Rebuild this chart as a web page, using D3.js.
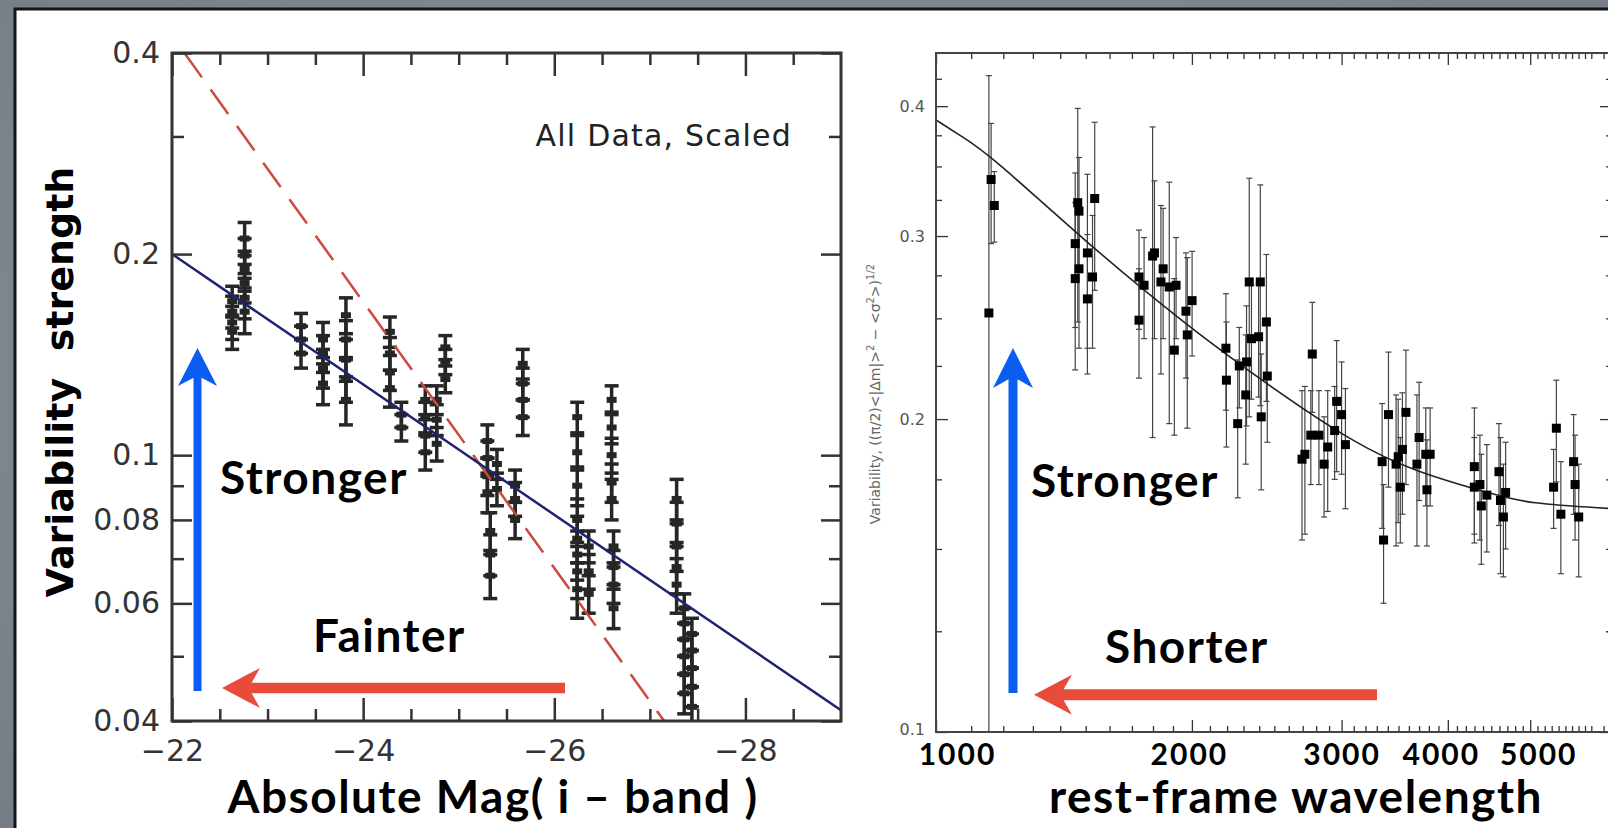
<!DOCTYPE html>
<html>
<head>
<meta charset="utf-8">
<script src="https://cdn.jsdelivr.net/npm/d3@7"></script>
<style>
  html, body { margin: 0; padding: 0; background: #838c94; }
  svg { display: block; }
</style>
</head>
<body>
<svg id="chart" width="1608" height="828"></svg>
<script>
// Left panel: variability vs absolute i-band magnitude
var magTicks = [-22, -24, -26, -28];
var magMinorTicks = [-22.5, -23, -23.5, -24.5, -25, -25.5, -26.5, -27, -27.5, -28.5];
var varTicks = [0.04, 0.06, 0.08, 0.1, 0.2, 0.4];
var varMinorTicks = [0.05, 0.07, 0.09, 0.3];

// each column of binned points shares one magnitude and one error size
var magCols = [-22.63, -22.76, -23.35, -23.58, -23.82, -24.28, -24.40, -24.65, -24.77, -24.86, -25.30,
  -25.33, -25.40, -25.59, -25.67, -26.24, -26.36, -26.60, -26.62, -27.28, -27.36, -27.44];
var varCols = [
  [0.170, 0.164, 0.158, 0.153],
  [0.211, 0.199, 0.190, 0.181, 0.172, 0.164],
  [0.156, 0.149, 0.142],
  [0.149, 0.142, 0.135, 0.128],
  [0.162, 0.149, 0.139, 0.130, 0.121],
  [0.153, 0.142, 0.133, 0.126],
  [0.115, 0.110],
  [0.121, 0.114, 0.107, 0.101],
  [0.121, 0.113, 0.104],
  [0.145, 0.138, 0.130],
  [0.105, 0.099, 0.093, 0.088],
  [0.077, 0.071, 0.066],
  [0.097, 0.089],
  [0.090, 0.086, 0.080],
  [0.137, 0.128, 0.121, 0.114],
  [0.114, 0.101, 0.090, 0.080, 0.075, 0.071, 0.067, 0.063],
  [0.073, 0.067, 0.062],
  [0.121, 0.110, 0.100, 0.091, 0.086],
  [0.073, 0.068, 0.064, 0.059],
  [0.086, 0.079, 0.073, 0.068, 0.064],
  [0.059, 0.056, 0.053, 0.050, 0.047, 0.044],
  [0.054, 0.051, 0.048, 0.045, 0.042]
];
var errCols = [0.009, 0.012, 0.007, 0.009, 0.010, 0.008, 0.005, 0.006, 0.006, 0.006, 0.006,
  0.005, 0.005, 0.005, 0.007, 0.006, 0.004, 0.006, 0.004, 0.006, 0.003, 0.003];

var shallowFitMag = [-22, -29];
var shallowFitVar = [0.2, 0.0415];
var steepFitMag = [-22.13, -27.15];
var steepFitVar = [0.4, 0.04];

// Right panel: variability vs rest-frame wavelength
var waveTicks = [1000, 2000, 3000, 4000, 5000];
var waveTickShift = [21, -3, 0, -7, 8];
var waveVarTicks = [0.1, 0.2, 0.3, 0.4];

var waveObs = [1154, 1161, 1171,
  1468, 1473, 1458, 1458, 1473, 1507, 1507, 1528, 1537,
  1733, 1757, 1733, 1798, 1807, 1839, 1850, 1881, 1907, 1916, 1968, 1975, 2001,
  2193, 2196, 2264, 2274, 2319, 2314, 2336, 2350, 2396, 2407, 2413, 2447, 2453,
  2695, 2716, 2760, 2771, 2821, 2861, 2889, 2944, 2960, 3000, 3031,
  3348, 3361, 3406, 3477, 3497, 3517, 3537, 3571, 3679, 3701, 3768, 3813, 3780,
  4298, 4298, 4363, 4380, 4446, 4594, 4613, 4650, 4678,
  5367, 5327, 5433, 5624, 5646, 5702];
var waveVar = [0.253, 0.340, 0.321,
  0.323, 0.317, 0.295, 0.273, 0.279, 0.289, 0.261, 0.274, 0.326,
  0.274, 0.269, 0.249, 0.287, 0.289, 0.271, 0.279, 0.268, 0.233, 0.269, 0.254, 0.241, 0.260,
  0.234, 0.218, 0.198, 0.225, 0.227, 0.211, 0.271, 0.239, 0.240, 0.271, 0.201, 0.248, 0.220,
  0.183, 0.185, 0.193, 0.231, 0.193, 0.181, 0.188, 0.195, 0.208, 0.202, 0.189,
  0.182, 0.153, 0.202, 0.181, 0.184, 0.172, 0.187, 0.203, 0.181, 0.192, 0.185, 0.185, 0.171,
  0.180, 0.172, 0.173, 0.165, 0.169, 0.178, 0.167, 0.161, 0.170,
  0.196, 0.172, 0.162, 0.182, 0.173, 0.161];
var waveErr = [0.175, 0.045, 0.025,
  0.075, 0.040, 0.050, 0.050, 0.045, 0.055, 0.040, 0.040, 0.060,
  0.030, 0.030, 0.030, 0.095, 0.050, 0.050, 0.040, 0.070, 0.040, 0.030, 0.035, 0.045, 0.030,
  0.030, 0.030, 0.030, 0.020, 0.030, 0.030, 0.070, 0.030, 0.030, 0.065, 0.030, 0.040, 0.030,
  0.030, 0.030, 0.020, 0.028, 0.020, 0.020, 0.025, 0.020, 0.030, 0.025, 0.025,
  0.025, 0.020, 0.030, 0.030, 0.025, 0.020, 0.025, 0.030, 0.030, 0.025, 0.020, 0.020, 0.020,
  0.025, 0.020, 0.020, 0.020, 0.020, 0.020, 0.025, 0.020, 0.020,
  0.022, 0.015, 0.020, 0.020, 0.020, 0.020];

var waveFitObs = [1000, 1067, 1154, 1493, 1972, 2471, 3090, 3652, 4566, 4943, 6240];
var waveFitVar = [0.388, 0.375, 0.360, 0.297, 0.246, 0.215, 0.190, 0.178, 0.169, 0.166, 0.164];

(function () {
  'use strict';

  var COLOR_FRAME = '#333',
    COLOR_POINT = '#262626',
    COLOR_NAVY = '#1d2470',
    COLOR_DASH = '#cc4a3e',
    COLOR_BLUE = '#0b5cf0',
    COLOR_RED = '#e84b3a',
    W = 1608,
    H = 828,
    svg, defs, grad, gl, gr, xMag, yVar, xWave, yWave;

  svg = d3.select('#chart');
  defs = svg.append('defs');

  // slide background and white panel
  grad = defs.append('radialGradient').attr('id', 'bg')
    .attr('cx', '50%').attr('cy', '45%').attr('r', '80%');
  grad.append('stop').attr('offset', '0%').attr('stop-color', '#8d969e');
  grad.append('stop').attr('offset', '100%').attr('stop-color', '#737c85');
  svg.append('rect').attr('width', W).attr('height', H).attr('fill', 'url(#bg)');
  svg.append('rect').attr('x', 15).attr('y', 9).attr('width', W).attr('height', H)
    .attr('fill', '#fff').attr('stroke', '#151515').attr('stroke-width', 3);

  function arrow(x1, y1, x2, y2, shaftW, headW, headL, color) {
    var dx = x2 - x1, dy = y2 - y1, len = Math.sqrt(dx * dx + dy * dy),
      ux = dx / len, uy = dy / len, notch = headL * 0.22;
    function pt(a, b) { return [x1 + ux * a - uy * b, y1 + uy * a + ux * b]; }
    svg.append('path')
      .attr('d', d3.line()([
        pt(0, -shaftW / 2), pt(len - headL + notch, -shaftW / 2), pt(len - headL, -headW / 2),
        pt(len, 0),
        pt(len - headL, headW / 2), pt(len - headL + notch, shaftW / 2), pt(0, shaftW / 2)
      ]) + 'Z')
      .attr('fill', color);
  }

  function styleTicks(g, width) {
    g.select('.domain').remove();
    g.selectAll('.tick line').attr('stroke', COLOR_FRAME).attr('stroke-width', width);
  }

  // unlabelled tick rows: drop the empty text nodes too
  function bareTicks(g, width) {
    styleTicks(g, width);
    g.selectAll('.tick text').remove();
  }

  // ---------- left plot
  var L = {x0: 172, x1: 841, y0: 53, y1: 721};
  xMag = d3.scaleLinear().domain([-22, -29]).range([L.x0, L.x1]);
  yVar = d3.scaleLog().domain([0.04, 0.4]).range([L.y1, L.y0]);

  defs.append('clipPath').attr('id', 'clipL').append('rect')
    .attr('x', L.x0).attr('y', L.y0).attr('width', L.x1 - L.x0).attr('height', L.y1 - L.y0);

  gl = svg.append('g');

  var leftPoints = [];
  magCols.forEach(function (m, i) {
    varCols[i].forEach(function (v) {
      leftPoints.push({m: m, v: v, e: errCols[i]});
    });
  });

  var pts = gl.append('g').attr('clip-path', 'url(#clipL)');
  pts.selectAll('.bar').data(leftPoints).enter().append('line')
    .attr('x1', function (d) { return xMag(d.m); })
    .attr('x2', function (d) { return xMag(d.m); })
    .attr('y1', function (d) { return yVar(d.v + d.e); })
    .attr('y2', function (d) { return yVar(d.v - d.e); })
    .attr('stroke', COLOR_POINT).attr('stroke-width', 3.5);
  [1, -1].forEach(function (s) {
    pts.selectAll('.cap').data(leftPoints).enter().append('line')
      .attr('x1', function (d) { return xMag(d.m) - 7; })
      .attr('x2', function (d) { return xMag(d.m) + 7; })
      .attr('y1', function (d) { return yVar(d.v + s * d.e); })
      .attr('y2', function (d) { return yVar(d.v + s * d.e); })
      .attr('stroke', COLOR_POINT).attr('stroke-width', 3.5);
  });
  pts.selectAll('.dot').data(leftPoints).enter().append('rect')
    .attr('x', function (d) { return xMag(d.m) - 5; })
    .attr('y', function (d) { return yVar(d.v) - 3; })
    .attr('width', 10).attr('height', 6).attr('fill', COLOR_POINT);

  var lineL = d3.line().x(function (d) { return xMag(d[0]); }).y(function (d) { return yVar(d[1]); });
  pts.append('path').attr('d', lineL(d3.zip(steepFitMag, steepFitVar)))
    .attr('fill', 'none').attr('stroke', COLOR_DASH).attr('stroke-width', 2.5)
    .attr('stroke-dasharray', '30,15');
  pts.append('path').attr('d', lineL(d3.zip(shallowFitMag, shallowFitVar)))
    .attr('fill', 'none').attr('stroke', COLOR_NAVY).attr('stroke-width', 2.5);

  // ticks on all four sides, pointing inward
  gl.append('g').attr('transform', 'translate(0,' + L.y1 + ')')
    .call(d3.axisBottom(xMag).tickValues(magTicks).tickSizeInner(-23).tickSizeOuter(0)
      .tickPadding(19).tickFormat(d3.format('d')))
    .call(function (g) {
      styleTicks(g, 2.5);
      g.selectAll('text').attr('font-family', 'DejaVu Sans').attr('font-size', 30).attr('fill', COLOR_FRAME);
    });
  gl.append('g').attr('transform', 'translate(0,' + L.y1 + ')')
    .call(d3.axisBottom(xMag).tickValues(magMinorTicks).tickSizeInner(-12).tickSizeOuter(0))
    .call(bareTicks, 2.5);
  gl.append('g').attr('transform', 'translate(0,' + L.y0 + ')')
    .call(d3.axisTop(xMag).tickValues(magTicks).tickSizeInner(-23).tickSizeOuter(0))
    .call(bareTicks, 2.5);
  gl.append('g').attr('transform', 'translate(0,' + L.y0 + ')')
    .call(d3.axisTop(xMag).tickValues(magMinorTicks).tickSizeInner(-12).tickSizeOuter(0))
    .call(bareTicks, 2.5);
  gl.append('g').attr('transform', 'translate(' + L.x0 + ',0)')
    .call(d3.axisLeft(yVar).tickValues(varTicks).tickSizeInner(-20).tickSizeOuter(0)
      .tickPadding(12).tickFormat(d3.format('~g')))
    .call(function (g) {
      styleTicks(g, 2.5);
      g.selectAll('text').attr('font-family', 'DejaVu Sans').attr('font-size', 30).attr('fill', COLOR_FRAME);
    });
  gl.append('g').attr('transform', 'translate(' + L.x0 + ',0)')
    .call(d3.axisLeft(yVar).tickValues(varMinorTicks).tickSizeInner(-12).tickSizeOuter(0))
    .call(bareTicks, 2.5);
  gl.append('g').attr('transform', 'translate(' + L.x1 + ',0)')
    .call(d3.axisRight(yVar).tickValues(varTicks).tickSizeInner(-20).tickSizeOuter(0))
    .call(bareTicks, 2.5);
  gl.append('g').attr('transform', 'translate(' + L.x1 + ',0)')
    .call(d3.axisRight(yVar).tickValues(varMinorTicks).tickSizeInner(-12).tickSizeOuter(0))
    .call(bareTicks, 2.5);

  gl.append('rect').attr('x', L.x0).attr('y', L.y0)
    .attr('width', L.x1 - L.x0).attr('height', L.y1 - L.y0)
    .attr('fill', 'none').attr('stroke', COLOR_FRAME).attr('stroke-width', 3);

  gl.append('text').attr('x', 792).attr('y', 146).attr('text-anchor', 'end')
    .attr('font-family', 'DejaVu Sans').attr('font-size', 30).attr('letter-spacing', 1.2)
    .attr('fill', '#222').text('All Data, Scaled');

  // ---------- right plot
  var R = {x0: 936, x1: 1612, y0: 53, y1: 732};
  xWave = d3.scaleLog().domain([1000, 6240]).range([R.x0, R.x1]);
  yWave = d3.scaleLog().domain([0.1, 0.45]).range([R.y1, R.y0]);

  defs.append('clipPath').attr('id', 'clipR').append('rect')
    .attr('x', R.x0).attr('y', R.y0).attr('width', R.x1 - R.x0).attr('height', R.y1 - R.y0);

  gr = svg.append('g');
  var rightPoints = waveObs.map(function (w, i) {
    return {w: w, v: waveVar[i], e: waveErr[i]};
  });

  var rp = gr.append('g').attr('clip-path', 'url(#clipR)');
  rp.selectAll('.bar').data(rightPoints).enter().append('line')
    .attr('x1', function (d) { return xWave(d.w); })
    .attr('x2', function (d) { return xWave(d.w); })
    .attr('y1', function (d) { return yWave(d.v + d.e); })
    .attr('y2', function (d) { return yWave(Math.max(d.v - d.e, 0.05)); })
    .attr('stroke', '#444').attr('stroke-width', 1.2);
  [1, -1].forEach(function (s) {
    rp.selectAll('.cap').data(rightPoints).enter().append('line')
      .attr('x1', function (d) { return xWave(d.w) - 3; })
      .attr('x2', function (d) { return xWave(d.w) + 3; })
      .attr('y1', function (d) { return yWave(Math.max(d.v + s * d.e, 0.05)); })
      .attr('y2', function (d) { return yWave(Math.max(d.v + s * d.e, 0.05)); })
      .attr('stroke', '#444').attr('stroke-width', 1.2);
  });
  rp.append('path')
    .attr('d', d3.line().curve(d3.curveBasis)
      .x(function (d) { return xWave(d[0]); })
      .y(function (d) { return yWave(d[1]); })(d3.zip(waveFitObs, waveFitVar)))
    .attr('fill', 'none').attr('stroke', '#222').attr('stroke-width', 1.6);
  rp.selectAll('.sq').data(rightPoints).enter().append('rect')
    .attr('x', function (d) { return xWave(d.w) - 4.5; })
    .attr('y', function (d) { return yWave(d.v) - 4.5; })
    .attr('width', 9).attr('height', 9).attr('fill', '#000');

  var waveMinor = d3.range(1100, 6300, 100).filter(function (w) { return w % 1000 !== 0; });
  var varMinorR = d3.range(0.125, 0.45, 0.025).filter(function (v) {
    return Math.abs(v * 10 - Math.round(v * 10)) > 1e-6;
  });

  gr.append('g').attr('transform', 'translate(0,' + R.y1 + ')')
    .call(d3.axisBottom(xWave).tickValues(waveTicks).tickSizeInner(-12).tickSizeOuter(0)
      .tickPadding(12).tickFormat(d3.format('d')))
    .call(function (g) {
      styleTicks(g, 1.3);
      g.selectAll('text').attr('font-family', 'Lato').attr('font-weight', 'bold')
        .attr('font-size', 30).attr('letter-spacing', 2).attr('fill', '#000')
        .attr('dx', function (d, i) { return waveTickShift[i]; });
    });
  gr.append('g').attr('transform', 'translate(0,' + R.y1 + ')')
    .call(d3.axisBottom(xWave).tickValues(waveMinor).tickSizeInner(-6).tickSizeOuter(0))
    .call(bareTicks, 1.3);
  gr.append('g').attr('transform', 'translate(0,' + R.y0 + ')')
    .call(d3.axisTop(xWave).tickValues(waveTicks).tickSizeInner(-12).tickSizeOuter(0))
    .call(bareTicks, 1.3);
  gr.append('g').attr('transform', 'translate(0,' + R.y0 + ')')
    .call(d3.axisTop(xWave).tickValues(waveMinor).tickSizeInner(-6).tickSizeOuter(0))
    .call(bareTicks, 1.3);
  gr.append('g').attr('transform', 'translate(' + R.x0 + ',0)')
    .call(d3.axisLeft(yWave).tickValues(waveVarTicks).tickSizeInner(-12).tickSizeOuter(0)
      .tickPadding(11).tickFormat(d3.format('.1f')))
    .call(function (g) {
      styleTicks(g, 1.3);
      g.selectAll('text').attr('font-family', 'DejaVu Sans').attr('font-size', 16).attr('fill', '#555')
        .attr('dy', function (d) { return d === 0.1 ? '0.15em' : '0.32em'; });
    });
  gr.append('g').attr('transform', 'translate(' + R.x0 + ',0)')
    .call(d3.axisLeft(yWave).tickValues(varMinorR).tickSizeInner(-6).tickSizeOuter(0))
    .call(bareTicks, 1.3);
  gr.append('g').attr('transform', 'translate(' + R.x1 + ',0)')
    .call(d3.axisRight(yWave).tickValues(waveVarTicks).tickSizeInner(-12).tickSizeOuter(0))
    .call(bareTicks, 1.3);
  gr.append('g').attr('transform', 'translate(' + R.x1 + ',0)')
    .call(d3.axisRight(yWave).tickValues(varMinorR).tickSizeInner(-6).tickSizeOuter(0))
    .call(bareTicks, 1.3);

  gr.append('rect').attr('x', R.x0).attr('y', R.y0)
    .attr('width', R.x1 - R.x0).attr('height', R.y1 - R.y0)
    .attr('fill', 'none').attr('stroke', '#444').attr('stroke-width', 2);

  var yt = gr.append('text').attr('transform', 'translate(880,394) rotate(-90)')
    .attr('text-anchor', 'middle').attr('font-family', 'DejaVu Sans').attr('font-size', 14)
    .attr('fill', '#666');
  yt.append('tspan').text('Variability, ((\u03c0/2)<|\u0394m|>');
  yt.append('tspan').attr('dy', -6).attr('font-size', 10).text('2');
  yt.append('tspan').attr('dy', 6).text(' \u2212 <\u03c3');
  yt.append('tspan').attr('dy', -6).attr('font-size', 10).text('2');
  yt.append('tspan').attr('dy', 6).text('>)');
  yt.append('tspan').attr('dy', -6).attr('font-size', 10).text('1/2');

  // ---------- slide annotations
  svg.append('text').attr('transform', 'translate(73,382) rotate(-90)')
    .attr('text-anchor', 'middle').attr('font-family', 'DejaVu Sans').attr('font-weight', 'bold')
    .attr('font-size', 38).style('white-space', 'pre').attr('fill', '#000')
    .text('Variability  strength');

  function bigText(x, y, str, anchor) {
    svg.append('text').attr('x', x).attr('y', y).attr('text-anchor', anchor || 'start')
      .attr('font-family', 'Lato').attr('font-weight', 'bold').attr('font-size', 46)
      .attr('letter-spacing', 1.5).attr('fill', '#000').text(str);
  }
  bigText(493, 813, 'Absolute Mag( i \u2013 band )', 'middle');
  bigText(1296, 813, 'rest-frame wavelength', 'middle');
  bigText(220, 494, 'Stronger');
  bigText(313, 652, 'Fainter');
  bigText(1031, 497, 'Stronger');
  bigText(1105, 663, 'Shorter');

  arrow(197.5, 691, 197.5, 348, 8, 39, 38, COLOR_BLUE);
  arrow(1013, 693, 1013, 348, 9, 40, 40, COLOR_BLUE);
  arrow(565, 688, 222, 688, 10.5, 40, 38, COLOR_RED);
  arrow(1377, 694.7, 1034, 694.7, 11, 40, 38, COLOR_RED);
})();
</script>
</body>
</html>
